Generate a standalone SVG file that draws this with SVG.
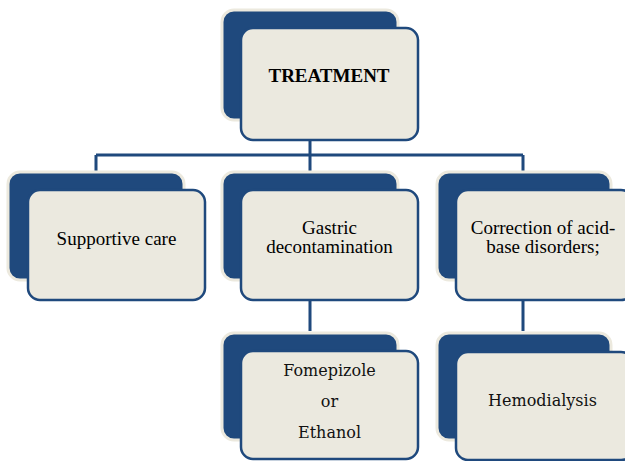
<svg xmlns="http://www.w3.org/2000/svg" width="625" height="461" viewBox="0 0 625 461">
<style>
.back{fill:#1F497D;stroke:#ECE9DE;stroke-width:3}
.front{fill:#EBE9DF;stroke:#1F497D;stroke-width:2.5}
.conn{fill:none;stroke:#1F497D;stroke-width:3}
.t{font-family:"Liberation Serif","Times New Roman",serif;font-size:19px;fill:#000;text-anchor:middle}
.c{font-family:"DejaVu Serif",Cambria,serif;font-size:16px;fill:#111;text-anchor:middle}
</style>
<rect width="625" height="461" fill="#fff"/>
<g id="connectors">
<path class="conn" d="M310 140V155M96 155H523M96 155V171M310 155V171M523 155V171"/>
<path class="conn" d="M310 300V331M523 300V331"/>
</g>
<g id="treatment">
<rect class="back" x="222" y="10" width="176" height="110" rx="12"/>
<rect class="front" x="241" y="28" width="177" height="112" rx="12"/>
<text class="t" x="329" y="82" font-weight="bold">TREATMENT</text>
</g>
<g id="supportive">
<rect class="back" x="8" y="172" width="176" height="108" rx="12"/>
<rect class="front" x="28" y="190" width="177" height="110" rx="12"/>
<text class="t" x="116.5" y="245">Supportive care</text>
</g>
<g id="gastric">
<rect class="back" x="222" y="172" width="176" height="108" rx="12"/>
<rect class="front" x="241" y="190" width="177" height="110" rx="12"/>
<text class="t" x="329.5" y="234">Gastric</text>
<text class="t" x="329.5" y="253">decontamination</text>
</g>
<g id="correction">
<rect class="back" x="437" y="172" width="174" height="108" rx="12"/>
<rect class="front" x="456" y="190" width="177" height="110" rx="12"/>
<text class="t" x="543" y="234">Correction of acid-</text>
<text class="t" x="543" y="253">base disorders;</text>
</g>
<g id="fomepizole">
<rect class="back" x="222" y="333" width="176" height="107" rx="12"/>
<rect class="front" x="241" y="351" width="177" height="108" rx="12"/>
<text class="c" x="329.5" y="376">Fomepizole</text>
<text class="c" x="329.5" y="407">or</text>
<text class="c" x="329.5" y="438">Ethanol</text>
</g>
<g id="hemodialysis">
<rect class="back" x="437" y="333" width="174" height="107" rx="12"/>
<rect class="front" x="456" y="352" width="177" height="108" rx="12"/>
<text class="c" x="542.5" y="406">Hemodialysis</text>
</g>
</svg>
